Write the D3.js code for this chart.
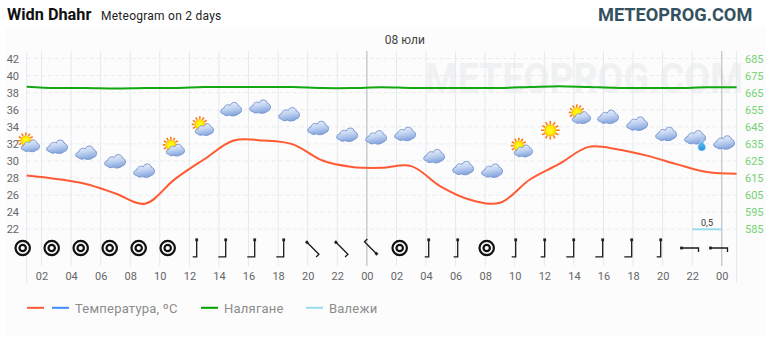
<!DOCTYPE html>
<html>
<head>
<meta charset="utf-8">
<script src="https://cdn.jsdelivr.net/npm/d3@7"></script>
<style>
  html, body { margin: 0; padding: 0; background: #fff; }
  svg { display: block; font-family: Roboto, sans-serif; }
</style>
</head>
<body>
<div id="chart"></div>
<script>
// values, one per two hours (hours 1, 3, ... 49)
const hours = [1, 3, 5, 7, 9, 11, 13, 15, 17, 19, 21, 23, 25, 27, 29, 31, 33, 35, 37, 39, 41, 43, 45, 47, 49];
const temperature = [28.3, 27.9, 27.3, 26.2, 25.0, 27.85, 30.2, 32.4, 32.4, 31.95, 30.05, 29.3, 29.2, 29.4, 27.0, 25.45, 25.1, 27.8, 29.65, 31.65, 31.35, 30.6, 29.6, 28.7, 28.5];
const pressure = [668.5, 667.7, 667.7, 667.4, 667.7, 667.7, 668.3, 668.3, 668.3, 668.3, 667.7, 667.7, 668.2, 667.8, 667.8, 667.8, 667.8, 668.3, 668.8, 668.3, 667.8, 667.7, 667.7, 668.1, 668.1];
const iconLevel = [31.8, 31.7, 31.0, 30.0, 28.9, 31.3, 33.7, 36.1, 36.4, 35.5, 33.9, 33.1, 32.8, 33.2, 30.6, 29.2, 28.9, 31.2, 33.6, 35.1, 35.2, 34.4, 33.2, 32.8, 32.2];
const sky = ['partly', 'cloud', 'cloud', 'cloud', 'cloud', 'partly', 'partly', 'cloud', 'cloud', 'cloud', 'cloud', 'cloud', 'cloud', 'cloud', 'cloud', 'cloud', 'cloud', 'partly', 'sun', 'partly', 'cloud', 'cloud', 'cloud', 'rain', 'cloud'];
// wind direction in degrees, null means calm; foot is the barb length class
const windDir = [null, null, null, null, null, null, 0, 0, 0, 0, -45, -45, 135, null, 0, 0, null, 0, 0, 0, 0, 0, 0, -90, -90];
const windFoot = [0, 0, 0, 0, 0, 0, 1, 2, 2, 2, 1, 1, 1, 0, 1, 1, 0, 1, 1, 2, 2, 2, 1, 1, 1];
const precipHours = [47];
const precipValues = [0.5];
const tickHours = d3.range(2, 49, 2);
const tempTicks = d3.range(22, 43, 2);
const pressureTicks = d3.range(585, 686, 10);
const legendItems = [
  { label: 'Температура, ºC', colors: ['#ff5a33', '#3f8cff'], x: 27 },
  { label: 'Налягане', colors: ['#00a000'], x: 201 },
  { label: 'Валежи', colors: ['#9adcec'], x: 306 }
];

const width = 770, height = 340;

const svg = d3.select('#chart').append('svg')
  .attr('width', width)
  .attr('height', height);

const defs = svg.append('defs');

const cloudGrad = defs.append('linearGradient')
  .attr('id', 'cloudGrad')
  .attr('x1', 0).attr('y1', 0).attr('x2', 0.25).attr('y2', 1);
cloudGrad.append('stop').attr('offset', '0%').attr('stop-color', '#eef3fb');
cloudGrad.append('stop').attr('offset', '50%').attr('stop-color', '#c6d7f2');
cloudGrad.append('stop').attr('offset', '100%').attr('stop-color', '#8aa9e0');

const sunGrad = defs.append('radialGradient').attr('id', 'sunGrad');
sunGrad.append('stop').attr('offset', '0%').attr('stop-color', '#ffff20');
sunGrad.append('stop').attr('offset', '65%').attr('stop-color', '#ffee00');
sunGrad.append('stop').attr('offset', '100%').attr('stop-color', '#ffb400');

const dropGrad = defs.append('linearGradient')
  .attr('id', 'dropGrad')
  .attr('x1', 0).attr('y1', 0).attr('x2', 0).attr('y2', 1);
dropGrad.append('stop').attr('offset', '0%').attr('stop-color', '#6cc0f2');
dropGrad.append('stop').attr('offset', '100%').attr('stop-color', '#2a94e0');

// panel
svg.append('rect')
  .attr('x', 5).attr('y', 27)
  .attr('width', 761).attr('height', 309)
  .attr('fill', '#fcfcfc');

// scales
const x = d3.scaleLinear().domain([1, 49]).range([26.7, 736.6]);
const yTemp = d3.scaleLinear().domain([22, 42]).range([229.3, 58.5]);
const yPress = d3.scaleLinear().domain([585, 685]).range([229.3, 58.5]);
// icons and wind marks sit on their own even 29px grid, not on the time scale
const iconX = d3.scalePoint().domain(d3.range(hours.length)).range([28.3, 724.3]);
const windX = d3.scalePoint().domain(d3.range(hours.length)).range([22.7, 718.7]);

// watermark
svg.append('text')
  .attr('x', 425).attr('y', 93)
  .attr('font-size', 42)
  .attr('font-weight', 700)
  .attr('textLength', 318)
  .attr('lengthAdjust', 'spacingAndGlyphs')
  .attr('fill', '#f0f1f2')
  .text('METEOPROG.COM');

// grid
svg.append('g').selectAll('line')
  .data(tempTicks)
  .join('line')
  .attr('x1', x(1)).attr('x2', x(49))
  .attr('y1', d => yTemp(d)).attr('y2', d => yTemp(d))
  .attr('stroke', '#e9ebed')
  .attr('stroke-dasharray', '4 3');

svg.append('g').selectAll('line')
  .data(tickHours)
  .join('line')
  .attr('x1', d => x(d)).attr('x2', d => x(d))
  .attr('y1', 51).attr('y2', 266)
  .attr('stroke', d => d % 24 === 0 ? '#adb5bd' : '#e4e9ef');

svg.append('g').selectAll('line')
  .data([1, 49])
  .join('line')
  .attr('x1', d => x(d)).attr('x2', d => x(d))
  .attr('y1', 51).attr('y2', 283)
  .attr('stroke', '#e4e9ef');

// axes
const styleAxis = (g, color) => {
  g.select('.domain').remove();
  g.selectAll('text').attr('fill', color).attr('font-size', 11).attr('font-family', 'Roboto, sans-serif');
};

svg.append('g')
  .attr('transform', 'translate(20,0)')
  .call(d3.axisLeft(yTemp).tickValues(tempTicks).tickSize(0).tickPadding(1))
  .call(g => styleAxis(g, '#666'));

svg.append('g')
  .attr('transform', 'translate(737,0)')
  .call(d3.axisRight(yPress).tickValues(pressureTicks).tickSize(0).tickPadding(8))
  .call(g => styleAxis(g, '#74d274'));

svg.append('g')
  .attr('transform', 'translate(0,270)')
  .call(d3.axisBottom(x).tickValues(tickHours).tickSize(0).tickPadding(2)
    .tickFormat(d => d3.format('02')(d % 24)))
  .call(g => styleAxis(g, '#666'));

// lines
const tempLine = d3.line()
  .x((d, i) => x(hours[i]))
  .y(d => yTemp(d))
  .curve(d3.curveCatmullRom.alpha(0.5));

const pressLine = d3.line()
  .x((d, i) => x(hours[i]))
  .y(d => yPress(d))
  .curve(d3.curveCatmullRom.alpha(0.5));

svg.append('path')
  .attr('d', pressLine(pressure))
  .attr('fill', 'none')
  .attr('stroke', '#12a812')
  .attr('stroke-width', 2);

svg.append('path')
  .attr('d', tempLine(temperature))
  .attr('fill', 'none')
  .attr('stroke', '#ff5a33')
  .attr('stroke-width', 2);

// precipitation
precipHours.forEach((h, i) => {
  svg.append('line')
    .attr('x1', x(h - 1)).attr('x2', x(h + 1))
    .attr('y1', yTemp(22)).attr('y2', yTemp(22))
    .attr('stroke', '#9adcec')
    .attr('stroke-width', 2);
  svg.append('text')
    .attr('x', x(h)).attr('y', yTemp(22) - 3)
    .attr('text-anchor', 'middle')
    .attr('font-size', 9)
    .attr('fill', '#333')
    .text(d3.format('.1f')(precipValues[i]).replace('.', ','));
});

// weather icons
const cloudPath = 'M-8,5 C-11.5,5 -11.5,0 -7.5,-0.5 C-7,-4 -3,-5 -1,-3.5 C0,-7.5 6.5,-7.5 7,-3 C11,-2.5 11.5,4 7,5 C4,7.5 0,7.5 -2,6 C-4,7.5 -7,6.5 -8,5 Z';

function drawSun(g, cx, cy, r) {
  const rays = d3.range(12).map(i => i * 30);
  g.selectAll(null)
    .data(rays)
    .join('line')
    .attr('transform', d => `translate(${cx},${cy}) rotate(${d})`)
    .attr('x1', r).attr('x2', r * 1.55)
    .attr('y1', 0).attr('y2', 0)
    .attr('stroke', '#ff7a10')
    .attr('stroke-width', 1.6);
  g.append('circle')
    .attr('cx', cx).attr('cy', cy).attr('r', r)
    .attr('fill', 'url(#sunGrad)');
}

function drawCloud(g, cx, cy, scale) {
  g.append('path')
    .attr('d', cloudPath)
    .attr('transform', `translate(${cx},${cy}) scale(${scale})`)
    .attr('fill', 'url(#cloudGrad)')
    .attr('stroke', '#6f8fcb')
    .attr('stroke-width', 0.9);
}

const icons = svg.append('g').selectAll('g')
  .data(sky)
  .join('g')
  .attr('transform', (d, i) => `translate(${iconX(i)},${yTemp(iconLevel[i])})`);

icons.each(function (d) {
  const g = d3.select(this);
  if (d === 'sun') {
    drawSun(g, 0, 0, 6);
  } else if (d === 'partly') {
    drawSun(g, -2.5, -5, 5.2);
    drawCloud(g, 2.3, 0, 0.88);
  } else {
    drawCloud(g, 0, 0, 1);
    if (d === 'rain') {
      g.append('path')
        .attr('d', 'M6.5,2.5 C7.5,6 10.5,7.5 10.5,10 A4,4 0 0 1 2.5,10 C2.5,7.5 5.5,6 6.5,2.5 Z')
        .attr('fill', 'url(#dropGrad)')
        .attr('stroke', '#fff')
        .attr('stroke-width', 0.4);
    }
  }
});

// wind marks
const winds = svg.append('g').selectAll('g')
  .data(windDir)
  .join('g')
  .attr('transform', (d, i) => `translate(${windX(i)},248)`);

winds.each(function (d, i) {
  const g = d3.select(this);
  if (d === null) {
    g.selectAll(null)
      .data([7.2, 3.2])
      .join('circle')
      .attr('r', r => r)
      .attr('fill', 'none')
      .attr('stroke', '#111')
      .attr('stroke-width', 2.2);
    return;
  }
  const foot = windFoot[i] === 2 ? 7.4 : 4;
  const r = g.append('g').attr('transform', `rotate(${d})`);
  r.append('path')
    .attr('d', `M0,-8.5 L0,8.8 L${-foot},8.8`)
    .attr('fill', 'none')
    .attr('stroke', '#1a1a1a')
    .attr('stroke-width', 1.3);
  r.append('rect')
    .attr('x', -1.4).attr('y', -9.6)
    .attr('width', 2.8).attr('height', 2.8)
    .attr('fill', '#222');
});

// titles
svg.append('text')
  .attr('x', 7).attr('y', 20)
  .attr('font-size', 16.3)
  .attr('font-weight', 700)
  .attr('fill', '#111')
  .text('Widn Dhahr');

svg.append('text')
  .attr('x', 101).attr('y', 20)
  .attr('font-size', 12)
  .attr('letter-spacing', 0.25)
  .attr('fill', '#222')
  .text('Meteogram on 2 days');

svg.append('text')
  .attr('x', 598).attr('y', 21)
  .attr('font-size', 18.2)
  .attr('font-weight', 700)
  .attr('fill', '#34515f')
  .text('METEOPROG.COM');

svg.append('text')
  .attr('x', x(24) + 18).attr('y', 44)
  .attr('text-anchor', 'start')
  .attr('font-size', 12)
  .attr('fill', '#444')
  .text('08 юли');

// legend
legendItems.forEach(item => {
  item.colors.forEach((c, i) => {
    svg.append('rect')
      .attr('x', item.x + i * 25).attr('y', 306.8)
      .attr('width', 17).attr('height', 2)
      .attr('fill', c);
  });
  svg.append('text')
    .attr('x', item.x + (item.colors.length - 1) * 25 + 23)
    .attr('y', 313)
    .attr('font-size', 13)
    .attr('letter-spacing', 0.22)
    .attr('fill', '#8c8c8c')
    .text(item.label);
});
</script>
</body>
</html>
